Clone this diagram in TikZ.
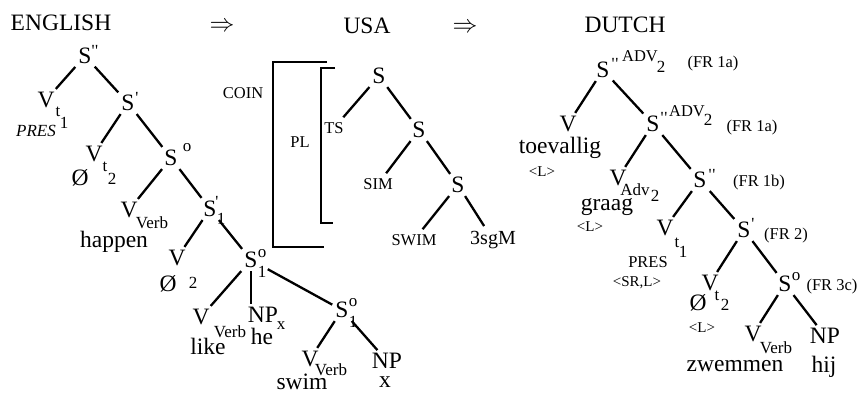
\documentclass[tikz,border=0pt]{standalone}
\usepackage{fontspec}
\setmainfont{Liberation Serif}
\usetikzlibrary{calc}

\newcommand{\dprime}{\textquotesingle\kern0.5pt\textquotesingle}

\tikzset{
  cat/.style={font=\fontsize{23.5}{26}\selectfont, inner sep=3pt},
  word/.style={font=\fontsize{23.5}{26}\selectfont, inner sep=0pt},
  idx/.style={font=\fontsize{17}{19}\selectfont, inner sep=0pt},
  tag/.style={font=\fontsize{16.5}{18}\selectfont, inner sep=0pt},
  leaf/.style={font=\fontsize{16.5}{18}\selectfont, inner sep=5pt},
  tinytag/.style={font=\fontsize{15}{16}\selectfont, inner sep=0pt},
  branch/.style={line width=2.3pt},
  brack/.style={line width=1.8pt}
}

\begin{document}
\begin{tikzpicture}[x=1pt, y=-1pt]
\useasboundingbox (0,0) rectangle (866,394);

% Headings
\node[word] (english) at (61,23) {ENGLISH};
\node[word] (arrowA) at (222,27) {$\Rightarrow$};
\node[word] (usa) at (367,26) {USA};
\node[word] (arrowB) at (465,28) {$\Rightarrow$};
\node[word] (dutch) at (625,25) {DUTCH};

% English tree
\node[cat] (eS2) at (85,56) {S};
\node[idx] at (95,51) {\dprime};
\node[cat] (eVt1) at (46,100) {V};
\node[idx] at (58,112) {t};
\node[idx] at (64,123) {1};
\node[idx] at (36,131) {\itshape PRES};
\node[cat] (eS1) at (128,103) {S};
\node[idx] at (137,98) {\textquotesingle};
\node[cat] (eVt2) at (94,154) {V};
\node[idx] at (105,167) {t};
\node[idx] at (112,179) {2};
\node[word] at (80,178) {Ø};
\node[cat] (eS0) at (171,158) {S};
\node[idx] at (187,148) {o};
\node[cat] (eVv1) at (129,210) {V};
\node[idx] at (152,223) {Verb};
\node[word] at (114,242) {happen};
\node[cat] (eS1x) at (210,209) {S};
\node[idx] at (217,202) {\textquotesingle};
\node[idx] at (221,219) {1};
\node[cat] (eV2) at (177,258) {V};
\node[word] at (168,284) {Ø};
\node[idx] at (193,283) {2};
\node[cat] (eS01) at (251,260) {S};
\node[idx] at (262,254) {o};
\node[idx] at (262,272) {1};
\node[cat] (eVv2) at (201,317) {V};
\node[idx] at (230,332) {Verb};
\node[word] at (208,346) {like};
\node[cat] (eNP1) at (263,315) {NP};
\node[idx] at (281,326) {x};
\node[word] at (262,336) {he};
\node[cat] (eS02) at (342,310) {S};
\node[idx] at (353,303) {o};
\node[idx] at (353,322) {1};
\node[cat] (eVv3) at (310,359) {V};
\node[idx] at (331,370) {Verb};
\node[word] at (302,382) {swim};
\node[cat] (eNP2) at (387,361) {NP};
\node[word] at (385,382) {x};

\draw[branch] (eS2) -- (eVt1);
\draw[branch] (eS2) -- (eS1);
\draw[branch] (eS1) -- (eVt2);
\draw[branch] (eS1) -- (eS0);
\draw[branch] (eS0) -- (eVv1);
\draw[branch] (eS0) -- (eS1x);
\draw[branch] (eS1x) -- (eV2);
\draw[branch] (eS1x) -- (eS01);
\draw[branch] (eS01) -- (eVv2);
\draw[branch] (eS01.south) -- (eS01.south |- eNP1.north);
\draw[branch, shorten <=8pt] (eS01) -- (eS02);
\draw[branch] (eS02) -- (eVv3);
\draw[branch] (eS02) -- (eNP2);

% USA tree
\draw[brack] (327,62) -- (273,62) -- (273,247) -- (324,247);
\draw[brack] (335,68) -- (321,68) -- (321,223) -- (333,223);
\node[tag] (coin) at (243,93) {COIN};
\node[tag] (pl) at (300,142) {PL};
\node[cat] (uS1) at (379,76) {S};
\node[leaf] (uTS) at (334,128) {TS};
\node[cat] (uS2) at (419,130) {S};
\node[leaf] (uSIM) at (378,184) {SIM};
\node[cat] (uS3) at (458,185) {S};
\node[leaf] (uSWIM) at (414,240) {SWIM};
\node[leaf, font=\fontsize{20}{22}\selectfont] (u3sgM) at (493,240) {3sgM};

\draw[branch] (uS1) -- (uTS);
\draw[branch] (uS1) -- (uS2);
\draw[branch] (uS2) -- (uSIM);
\draw[branch] (uS2) -- (uS3);
\draw[branch] (uS3) -- (uSWIM);
\draw[branch] (uS3) -- (u3sgM);

% Dutch tree
\node[cat] (dS2a) at (603,70) {S};
\node[idx] at (615,64) {\dprime};
\node[tag] at (640,56) {ADV};
\node[idx] at (661,67) {2};
\node[tag] at (713,64) {(FR 1a)};
\node[cat] (dV1) at (568,124) {V};
\node[word] at (560,148) {toevallig};
\node[tinytag] at (542,172) {<L>};
\node[cat] (dS2b) at (653,124) {S};
\node[idx] at (664,118) {\dprime};
\node[tag] at (687,111) {ADV};
\node[idx] at (708,120) {2};
\node[tag] at (752,128) {(FR 1a)};
\node[cat] (dVadv) at (618,178) {V};
\node[idx] at (635,190) {Adv};
\node[idx] at (655,196) {2};
\node[word] at (607,207) {graag};
\node[tinytag] at (590,227) {<L>};
\node[cat] (dS2c) at (700,180) {S};
\node[idx] at (712,175) {\dprime};
\node[tag] at (759,183) {(FR 1b)};
\node[cat] (dVt1) at (665,228) {V};
\node[idx] at (677,243) {t};
\node[idx] at (683,252) {1};
\node[tag] at (648,262) {PRES};
\node[tinytag] at (637,283) {<SR,L>};
\node[cat] (dS1) at (744,230) {S};
\node[idx] at (753,224) {\textquotesingle};
\node[tag] at (786,236) {(FR 2)};
\node[cat] (dVt2) at (710,283) {V};
\node[word] at (698,303) {Ø};
\node[idx] at (717,296) {t};
\node[idx] at (725,305) {2};
\node[tinytag] at (702,328) {<L>};
\node[cat] (dS0) at (785,284) {S};
\node[idx] at (796,277) {o};
\node[tag] at (832,287) {(FR 3c)};
\node[cat] (dVv) at (753,334) {V};
\node[idx] at (776,348) {Verb};
\node[word] at (735,366) {zwemmen};
\node[cat] (dNP) at (825,336) {NP};
\node[word] at (824,367) {hij};

\draw[branch] (dS2a) -- (dV1);
\draw[branch] (dS2a) -- (dS2b);
\draw[branch] (dS2b) -- (dVadv);
\draw[branch] (dS2b) -- (dS2c);
\draw[branch] (dS2c) -- (dVt1);
\draw[branch] (dS2c) -- (dS1);
\draw[branch] (dS1) -- (dVt2);
\draw[branch] (dS1) -- (dS0);
\draw[branch] (dS0) -- (dVv);
\draw[branch] (dS0) -- (dNP);
\end{tikzpicture}
\end{document}
